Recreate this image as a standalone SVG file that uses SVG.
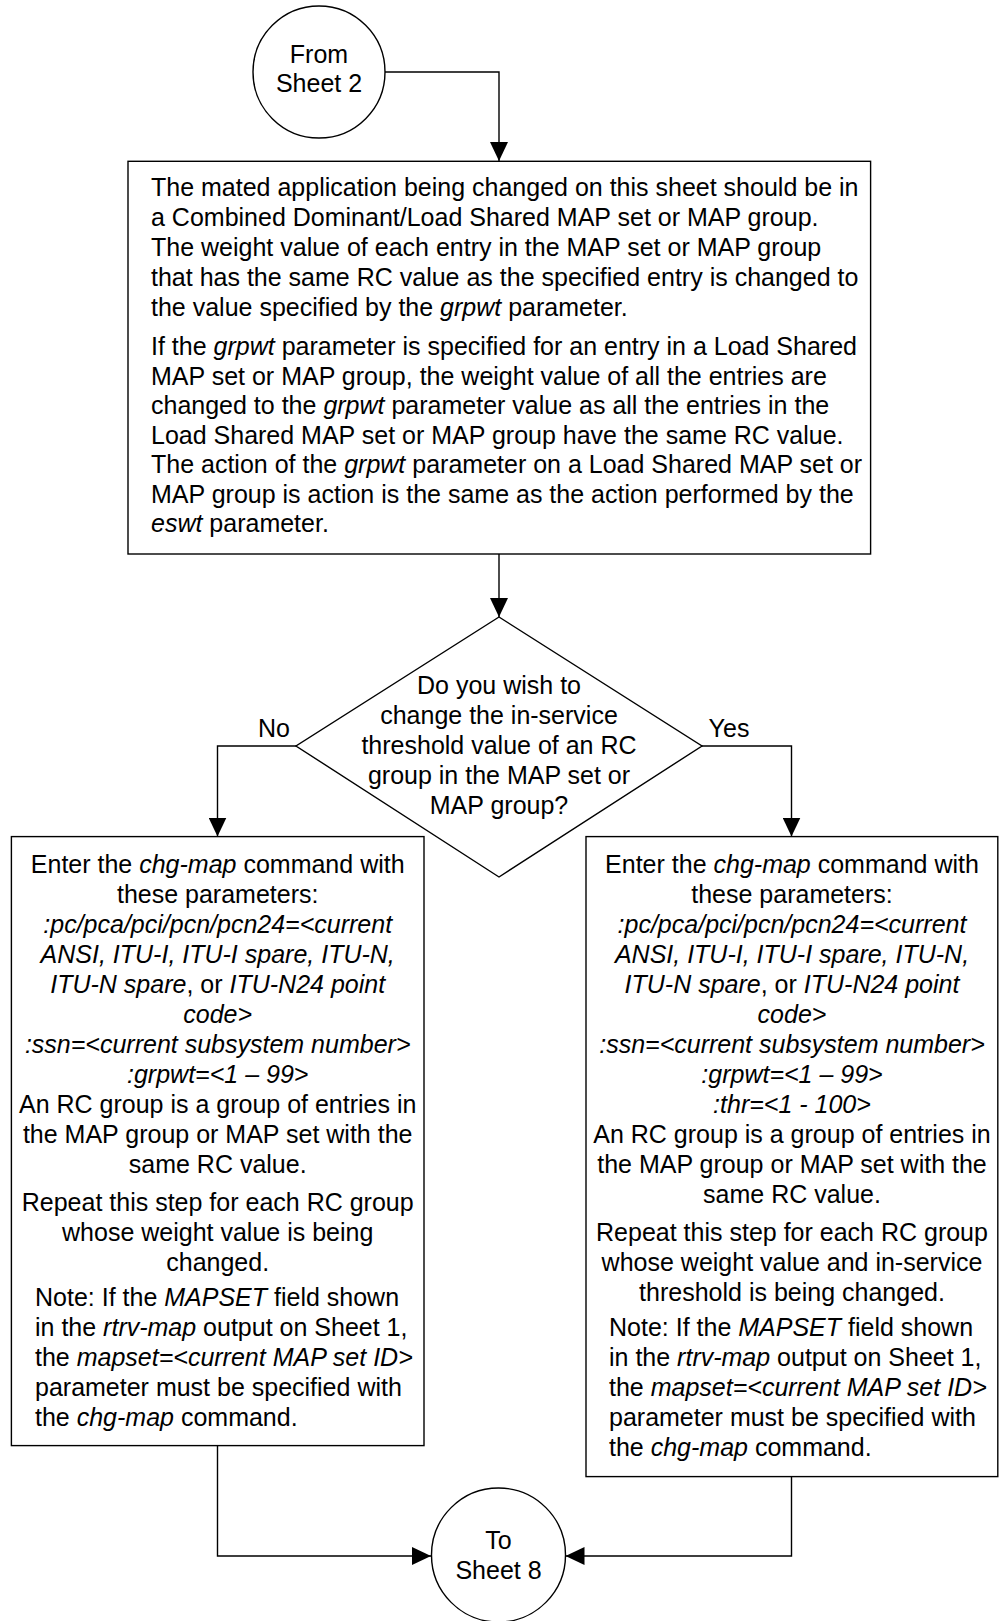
<svg xmlns="http://www.w3.org/2000/svg" width="1003" height="1621" viewBox="0 0 1003 1621">
<style>
text{font-family:"Liberation Sans",Arial,sans-serif;font-size:25px;fill:#000}
.c{text-anchor:middle}
.i{font-style:italic}
.s{fill:#fff;stroke:#000;stroke-width:1.4}
.l{fill:none;stroke:#000;stroke-width:1.4}
</style>
<defs>
<marker id="a" markerUnits="userSpaceOnUse" markerWidth="20" markerHeight="18" refX="19" refY="9" orient="auto"><path d="M0,0 L19,9 L0,18 z" fill="#000"/></marker>
</defs>
<rect width="1003" height="1621" fill="#fff"/>
<g id="connectors">
<path class="l" d="M385,72 H499 V161" marker-end="url(#a)"/>
<path class="l" d="M499,554 V617" marker-end="url(#a)"/>
<path class="l" d="M296,746 H217.5 V836.5" marker-end="url(#a)"/>
<path class="l" d="M702,746 H791.5 V836.5" marker-end="url(#a)"/>
<path class="l" d="M217.5,1445.5 V1556 H431" marker-end="url(#a)"/>
<path class="l" d="M791.5,1476.5 V1556 H565.5" marker-end="url(#a)"/>
<text x="274" y="737" class="c">No</text>
<text x="729" y="737" class="c">Yes</text>
</g>
<g id="from-sheet-2">
<circle class="s" cx="319" cy="72" r="66"/>
<text x="319" y="63" class="c">From</text>
<text x="319" y="92" class="c">Sheet 2</text>
</g>
<g id="note-box">
<rect class="s" x="128" y="161.3" width="742.6" height="392.7"/>
<text x="151" y="196">The mated application being changed on this sheet should be in</text>
<text x="151" y="226">a Combined Dominant/Load Shared MAP set or MAP group.</text>
<text x="151" y="255.5">The weight value of each entry in the MAP set or MAP group</text>
<text x="151" y="285.5">that has the same RC value as the specified entry is changed to</text>
<text x="151" y="315.5">the value specified by the <tspan class="i">grpwt</tspan> parameter.</text>
<text x="151" y="355">If the <tspan class="i">grpwt</tspan> parameter is specified for an entry in a Load Shared</text>
<text x="151" y="384.5">MAP set or MAP group, the weight value of all the entries are</text>
<text x="151" y="414">changed to the <tspan class="i">grpwt</tspan> parameter value as all the entries in the</text>
<text x="151" y="443.5">Load Shared MAP set or MAP group have the same RC value.</text>
<text x="151" y="473">The action of the <tspan class="i">grpwt</tspan> parameter on a Load Shared MAP set or</text>
<text x="151" y="502.5">MAP group is action is the same as the action performed by the</text>
<text x="151" y="532"><tspan class="i">eswt</tspan> parameter.</text>
</g>
<g id="decision">
<polygon class="s" points="499,617 702,746 499,877 296,746"/>
<text x="499" y="693.5" class="c">Do you wish to</text>
<text x="499" y="723.5" class="c">change the in-service</text>
<text x="499" y="753.5" class="c">threshold value of an RC</text>
<text x="499" y="783.5" class="c">group in the MAP set or</text>
<text x="499" y="813.5" class="c">MAP group?</text>
</g>
<g id="no-box">
<rect class="s" x="11.4" y="836.6" width="412.6" height="609"/>
<text x="217.7" y="873.4" class="c">Enter the <tspan class="i">chg-map</tspan> command with</text>
<text x="217.7" y="903.4" class="c">these parameters:</text>
<text x="217.7" y="933.4" class="c i">:pc/pca/pci/pcn/pcn24=&lt;current</text>
<text x="217.7" y="963.4" class="c i">ANSI, ITU-I, ITU-I spare, ITU-N,</text>
<text x="217.7" y="993.4" class="c"><tspan class="i">ITU-N spare</tspan>, or <tspan class="i">ITU-N24 point</tspan></text>
<text x="217.7" y="1023.4" class="c i">code&gt;</text>
<text x="217.7" y="1053.4" class="c i">:ssn=&lt;current subsystem number&gt;</text>
<text x="217.7" y="1083.4" class="c i">:grpwt=&lt;1 – 99&gt;</text>
<text x="217.7" y="1113.4" class="c">An RC group is a group of entries in</text>
<text x="217.7" y="1143.4" class="c">the MAP group or MAP set with the</text>
<text x="217.7" y="1173.4" class="c">same RC value.</text>
<text x="217.7" y="1210.5" class="c">Repeat this step for each RC group</text>
<text x="217.7" y="1240.5" class="c">whose weight value is being</text>
<text x="217.7" y="1270.5" class="c">changed.</text>
<text x="35" y="1305.5">Note: If the <tspan class="i">MAPSET</tspan> field shown</text>
<text x="35" y="1335.5">in the <tspan class="i">rtrv-map</tspan> output on Sheet 1,</text>
<text x="35" y="1365.5">the <tspan class="i">mapset=&lt;current MAP set ID&gt;</tspan></text>
<text x="35" y="1395.5">parameter must be specified with</text>
<text x="35" y="1425.5">the <tspan class="i">chg-map</tspan> command.</text>
</g>
<g id="yes-box">
<rect class="s" x="586" y="836.6" width="411.8" height="640"/>
<text x="792" y="873.4" class="c">Enter the <tspan class="i">chg-map</tspan> command with</text>
<text x="792" y="903.4" class="c">these parameters:</text>
<text x="792" y="933.4" class="c i">:pc/pca/pci/pcn/pcn24=&lt;current</text>
<text x="792" y="963.4" class="c i">ANSI, ITU-I, ITU-I spare, ITU-N,</text>
<text x="792" y="993.4" class="c"><tspan class="i">ITU-N spare</tspan>, or <tspan class="i">ITU-N24 point</tspan></text>
<text x="792" y="1023.4" class="c i">code&gt;</text>
<text x="792" y="1053.4" class="c i">:ssn=&lt;current subsystem number&gt;</text>
<text x="792" y="1083.4" class="c i">:grpwt=&lt;1 – 99&gt;</text>
<text x="792" y="1113.4" class="c i">:thr=&lt;1 - 100&gt;</text>
<text x="792" y="1143.4" class="c">An RC group is a group of entries in</text>
<text x="792" y="1173.4" class="c">the MAP group or MAP set with the</text>
<text x="792" y="1203.4" class="c">same RC value.</text>
<text x="792" y="1240.5" class="c">Repeat this step for each RC group</text>
<text x="792" y="1270.5" class="c">whose weight value and in-service</text>
<text x="792" y="1300.5" class="c">threshold is being changed.</text>
<text x="609" y="1335.5">Note: If the <tspan class="i">MAPSET</tspan> field shown</text>
<text x="609" y="1365.5">in the <tspan class="i">rtrv-map</tspan> output on Sheet 1,</text>
<text x="609" y="1395.5">the <tspan class="i">mapset=&lt;current MAP set ID&gt;</tspan></text>
<text x="609" y="1425.5">parameter must be specified with</text>
<text x="609" y="1455.5">the <tspan class="i">chg-map</tspan> command.</text>
</g>
<g id="to-sheet-8">
<circle class="s" cx="498.5" cy="1555" r="67"/>
<text x="498.5" y="1549" class="c">To</text>
<text x="498.5" y="1579" class="c">Sheet 8</text>
</g>
</svg>
